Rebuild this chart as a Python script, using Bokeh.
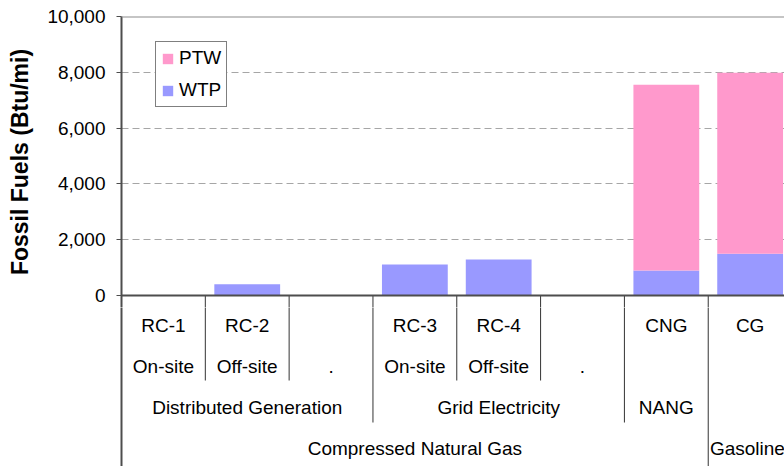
from bokeh.plotting import figure
from bokeh.layouts import column
from bokeh.models import (ColumnDataSource, Range1d, FixedTicker, NumeralTickFormatter,
                          Legend, LegendItem, Span, LinearAxis)
from bokeh.embed import file_html
from bokeh.resources import INLINE
from bokeh.core.properties import value

# ---------------- data ----------------
categories = ["RC-1", "RC-2", ".", "RC-3", "RC-4", ".", "CNG", "CG"]
wtp = [0, 400, 0, 1110, 1290, 0, 900, 1500]
ptw = [0, 0, 0, 0, 0, 0, 6650, 6480]

level1 = ["RC-1", "RC-2", "", "RC-3", "RC-4", "", "CNG", "CG"]
level2 = ["On-site", "Off-site", ".", "On-site", "Off-site", ".", "", ""]
level3 = ["Distributed Generation", "Distributed Generation", "Distributed Generation",
          "Grid Electricity", "Grid Electricity", "Grid Electricity", "NANG", ""]
level4 = ["Compressed Natural Gas"] * 7 + ["Gasoline"]

y_ticks = [0, 2000, 4000, 6000, 8000, 10000]
grid_ticks = [2000, 4000, 6000, 8000]

PINK = "#FF99CC"
BLUE = "#9999FF"
FONT = "Liberation Sans"
AXIS_COLOR = "#4d4d4d"

n = len(categories)
xs = [i + 0.5 for i in range(n)]
x_end = 7.91  # last category is cropped at the right edge as in the reference

# layout (pixels)
W = 784
LEFT = 121
TOP = 16
ZERO_PX = 295          # pixel row of value 0
TOP_BOTTOM_PX = 307    # where the chart canvas ends and the label canvas starts
TOTAL_H = 466
px_per_unit = (ZERO_PX - TOP) / 10000.0
y_start = -(TOP_BOTTOM_PX - ZERO_PX) / px_per_unit

# ---------------- top chart ----------------
src = ColumnDataSource(dict(x=xs, cat=categories, wtp=wtp, ptw=ptw))

p1 = figure(width=W, height=TOP_BOTTOM_PX, output_backend="svg", toolbar_location=None,
            x_range=Range1d(0, x_end), y_range=Range1d(y_start, 10000),
            x_axis_type=None, min_border_left=LEFT, min_border_right=0,
            min_border_top=TOP, min_border_bottom=0)
p1.outline_line_color = None
p1.background_fill_color = "white"
p1.border_fill_color = "white"
p1.xgrid.visible = False
p1.ygrid.ticker = FixedTicker(ticks=grid_ticks)
p1.ygrid.grid_line_color = "#a6a6a6"
p1.ygrid.grid_line_dash = "7 4"
p1.ygrid.grid_line_width = 1

rs = p1.vbar_stack(["wtp", "ptw"], x="x", width=0.785, color=[BLUE, PINK],
                   line_color=None, source=src)

ax = p1.yaxis[0]
ax.ticker = FixedTicker(ticks=y_ticks)
ax.formatter = NumeralTickFormatter(format="0,0")
ax.minor_tick_line_color = None
ax.major_tick_in = 0
ax.major_tick_out = 5
ax.major_tick_line_color = AXIS_COLOR
ax.axis_line_color = AXIS_COLOR
ax.axis_line_width = 2
ax.major_label_text_font = FONT
ax.major_label_text_font_size = "19px"
ax.major_label_text_color = "black"
ax.major_label_standoff = 11
ax.axis_label = "Fossil Fuels (Btu/mi)"
ax.axis_label_text_font = FONT
ax.axis_label_text_font_size = "23px"
ax.axis_label_text_font_style = "bold"
ax.axis_label_text_color = "black"
ax.axis_label_standoff = 11

# top border line and x axis line
p1.add_layout(Span(location=10000, dimension="width", line_color="#8c8c8c", line_width=2))
p1.add_layout(Span(location=0, dimension="width", line_color=AXIS_COLOR, line_width=2))

# separator ticks below the axis (continued in the label canvas)
sep_x = list(range(1, n))
p1.segment(x0=sep_x, y0=[0] * len(sep_x), x1=sep_x, y1=[y_start] * len(sep_x),
           line_color="#333333", line_width=1)

legend = Legend(items=[LegendItem(label="PTW", renderers=[rs[1]]),
                       LegendItem(label="WTP", renderers=[rs[0]])],
                location=(34, TOP_BOTTOM_PX - 107), orientation="vertical")
legend.glyph_width = 13
legend.glyph_height = 13
legend.label_text_font = FONT
legend.label_text_font_size = "19px"
legend.label_text_color = "black"
legend.label_standoff = 5
legend.label_height = 20
legend.padding = 5
legend.spacing = 10
legend.margin = 0
legend.border_line_color = "black"
legend.border_line_width = 1
legend.background_fill_color = "white"
legend.background_fill_alpha = 1
p1.add_layout(legend)

# ---------------- multi-level category axis ----------------
H2 = TOTAL_H - TOP_BOTTOM_PX
# y units = pixels below the zero line
p2 = figure(width=W, height=H2, output_backend="svg", toolbar_location=None,
            x_range=p1.x_range,
            y_range=Range1d(TOTAL_H - ZERO_PX, TOP_BOTTOM_PX - ZERO_PX),
            x_axis_type=None, y_axis_type=None,
            min_border_left=LEFT, min_border_right=0,
            min_border_top=0, min_border_bottom=0)
p2.outline_line_color = None
p2.background_fill_color = "white"
p2.border_fill_color = "white"
p2.grid.visible = False

left = LinearAxis(ticker=FixedTicker(ticks=[]), axis_line_color=AXIS_COLOR, axis_line_width=2,
                  major_tick_line_color=None, minor_tick_line_color=None,
                  major_label_text_font_size="0px")
p2.add_layout(left, "left")

row_y0 = 30
row_pitch = 41
row_y = [row_y0 + k * row_pitch for k in range(4)]
bottom = TOTAL_H - ZERO_PX

def groups(level):
    out = []
    start = 0
    for i in range(1, len(level) + 1):
        if i == len(level) or level[i] != level[start]:
            out.append((level[start], start, i))
            start = i
    return out

cx, cy, ct = [], [], []   # centred labels
lx, ly, lt = [], [], []   # left-aligned labels (groups cropped by the right edge)
for k, lev in enumerate([level1, level2]):
    for i, lab in enumerate(lev):
        if lab:
            cx.append(i + 0.5); cy.append(row_y[k]); ct.append(lab)
for k, lev in [(2, level3), (3, level4)]:
    for lab, s, e in groups(lev):
        if not lab:
            continue
        if e > x_end:
            lx.append(s + 0.02); ly.append(row_y[k]); lt.append(lab)
        else:
            cx.append((s + e) / 2); cy.append(row_y[k]); ct.append(lab)

p2.text(x=cx, y=cy, text=ct, text_align="center", text_baseline="middle",
        text_font=value(FONT), text_font_size="19px", text_color="black")
p2.text(x=lx, y=ly, text=lt, text_align="left", text_baseline="middle",
        text_font=value(FONT), text_font_size="19px", text_color="black")

# separators between categories, as deep as the grouping level that changes
sx, sy0, sy1 = [], [], []
for b in range(1, n):
    if level4[b] != level4[b - 1]:
        depth = bottom
    elif level3[b] != level3[b - 1]:
        depth = row_y[2] + 15
    else:
        depth = row_y[1] + 14
    sx.append(b); sy0.append(0); sy1.append(depth)
p2.segment(x0=sx, y0=sy0, x1=sx, y1=sy1, line_color="#333333", line_width=1)

layout = column(p1, p2, spacing=0)
open("out.html", "w").write(file_html(layout, INLINE))
